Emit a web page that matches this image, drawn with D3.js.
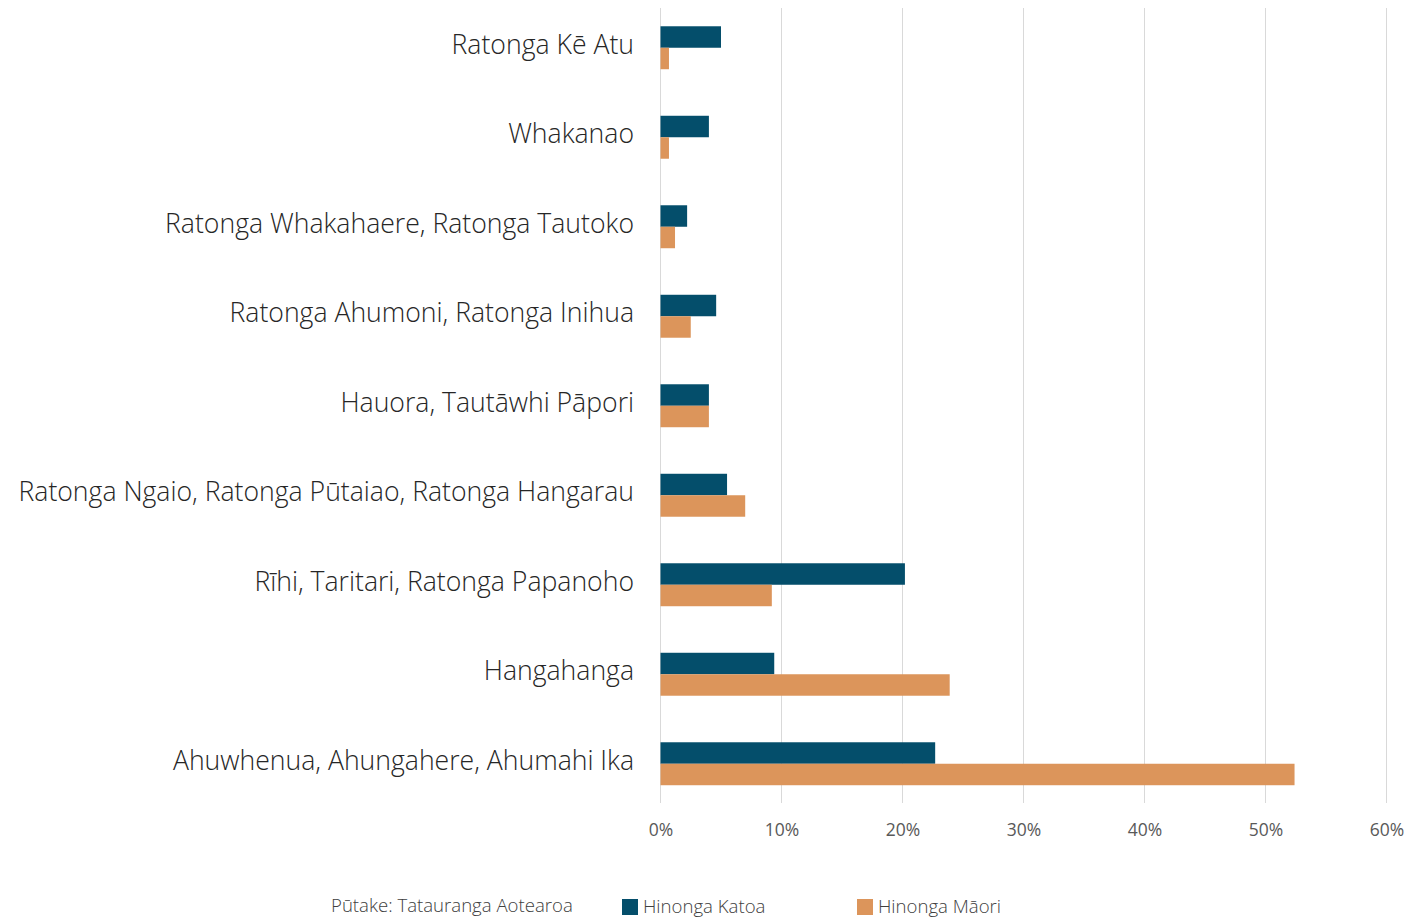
<!DOCTYPE html>
<html>
<head>
<meta charset="utf-8">
<script src="https://cdn.jsdelivr.net/npm/d3@7"></script>
<style>
  body { margin: 0; background: #fff; }
  svg text { font-family: "Open Sans", sans-serif; }
</style>
</head>
<body>
<div id="chart"></div>
<script>
// categories, top to bottom
const categories = [
    "Ratonga Kē Atu",
    "Whakanao",
    "Ratonga Whakahaere, Ratonga Tautoko",
    "Ratonga Ahumoni, Ratonga Inihua",
    "Hauora, Tautāwhi Pāpori",
    "Ratonga Ngaio, Ratonga Pūtaiao, Ratonga Hangarau",
    "Rīhi, Taritari, Ratonga Papanoho",
    "Hangahanga",
    "Ahuwhenua, Ahungahere, Ahumahi Ika"
];
// share of businesses, percent
const katoa = [5.0, 4.0, 2.2, 4.6, 4.0, 5.5, 20.2, 9.4, 22.7];
const maori = [0.7, 0.7, 1.2, 2.5, 4.0, 7.0, 9.2, 23.9, 52.4];
const seriesKeys = ["Hinonga Katoa", "Hinonga Māori"];
const seriesColors = ["#044e6b", "#dc955b"];
const xTicks = [0, 10, 20, 30, 40, 50, 60];
const sourceNote = "Pūtake: Tatauranga Aotearoa";

const width = 1426, height = 917;

const svg = d3.select("#chart").append("svg")
    .attr("width", width)
    .attr("height", height);

// scales
let x = d3.scaleLinear()
    .domain([0, 60])
    .range([660.5, 1386.5]);

let y = d3.scaleBand()
    .domain(categories)
    .range([3, 808.5])
    .paddingInner(0.52)
    .paddingOuter(0.26);

let ySub = d3.scaleBand()
    .domain(seriesKeys)
    .range([0, y.bandwidth()]);

// gridlines
svg.append("g")
    .selectAll("line")
    .data(xTicks)
    .join("line")
    .attr("x1", d => x(d))
    .attr("x2", d => x(d))
    .attr("y1", 8)
    .attr("y2", 803)
    .attr("stroke", "#d9d9d9")
    .attr("stroke-width", 1);

// x axis labels
let xAxis = d3.axisBottom(x)
    .tickValues(xTicks)
    .tickFormat(d => d + "%")
    .tickSize(0)
    .tickPadding(0);

let xAxisGroup = svg.append("g")
    .attr("transform", "translate(0,824)")
    .call(xAxis);
xAxisGroup.select(".domain").remove();
xAxisGroup.selectAll("text")
    .attr("font-size", "17.5px")
    .attr("fill", "#595959")
    .attr("dy", "0.71em");

// category labels
let yAxis = d3.axisLeft(y).tickSize(0).tickPadding(0);
let yAxisGroup = svg.append("g")
    .attr("transform", "translate(634,0)")
    .call(yAxis);
yAxisGroup.select(".domain").remove();
yAxisGroup.selectAll("text")
    .attr("font-size", "26.6px")
    .attr("font-weight", 300)
    .attr("fill", "#262626")
    .attr("dy", "0.22em");

// bars
let rows = categories.map((c, i) => ({cat: c, values: [katoa[i], maori[i]]}));

svg.append("g")
    .selectAll("g.row")
    .data(rows)
    .join("g")
    .attr("class", "row")
    .attr("transform", d => `translate(0,${y(d.cat)})`)
    .selectAll("rect")
    .data(d => d.values.map((v, j) => ({key: seriesKeys[j], value: v, j: j})))
    .join("rect")
    .attr("x", x(0))
    .attr("y", d => ySub(d.key))
    .attr("width", d => x(d.value) - x(0))
    .attr("height", ySub.bandwidth())
    .attr("fill", d => seriesColors[d.j]);

// source note
svg.append("text")
    .attr("x", 331)
    .attr("y", 912)
    .attr("font-size", "18.6px")
    .attr("font-weight", 300)
    .attr("fill", "#404040")
    .text(sourceNote);

// legend
let legendX = [622, 857];
let legend = svg.append("g")
    .selectAll("g")
    .data(seriesKeys)
    .join("g")
    .attr("transform", (d, i) => `translate(${legendX[i]},899)`);

legend.append("rect")
    .attr("width", 16)
    .attr("height", 16)
    .attr("fill", (d, i) => seriesColors[i]);

legend.append("text")
    .attr("x", 21)
    .attr("y", 14)
    .attr("font-size", "18.6px")
    .attr("font-weight", 300)
    .attr("fill", "#404040")
    .text(d => d);
</script>
</body>
</html>
